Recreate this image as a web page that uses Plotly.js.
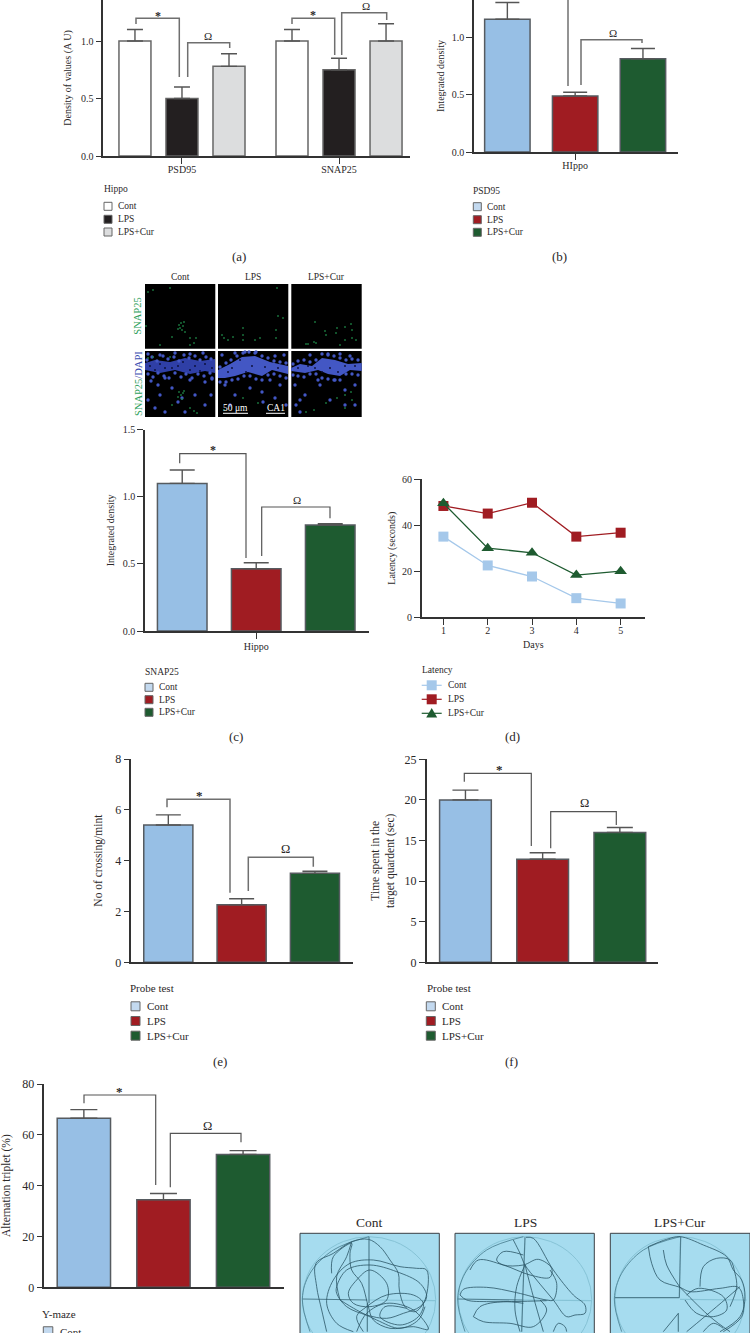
<!DOCTYPE html>
<html><head><meta charset="utf-8">
<script src="https://cdn.plot.ly/plotly-3.0.1.min.js"></script>
<style>html,body{margin:0;padding:0;background:#fff}#wrap{position:relative;width:750px;height:1344px;overflow:hidden}#chart{width:750px;height:1344px}#crop{position:absolute;left:0;top:1333px;width:750px;height:11px;background:#fff}</style>
</head><body><div id="wrap"><div id="chart"></div><div id="crop"></div></div>
<script>
// ---------- data ----------
const groups = ['Cont','LPS','LPS+Cur'];
const aCats = ['PSD95','SNAP25'];
const aCont = [1.0,1.0], aContTop = [1.1,1.1];
const aLps = [0.5,0.75], aLpsTop = [0.6,0.85];
const aCur = [0.78,1.0], aCurTop = [0.89,1.15];
const bVals = [1.154,0.487,0.81], bTops = [1.3,0.52,0.9];
const cVals = [1.1,0.464,0.79], cTops = [1.2,0.509,0.8];
const eVals = [5.4,2.26,3.5], eTops = [5.8,2.5,3.58];
const fVals = [20,12.7,16], fTops = [21.2,13.5,16.6];
const gVals = [66.5,34.5,52.3], gTops = [69.9,36.9,53.8];
const days = [1,2,3,4,5];
const dCont = [35,22.5,17.7,8.3,6];
const dLps = [48.3,45,49.7,35,36.7];
const dCur = [49.5,30,28,18.3,20];

// ---------- palette ----------
const INK='#2b2829', WHITE='#ffffff', BLACK='#231f20', GREY='#dcddde', BLUE='#97bfe5', RED='#a01c22', GREEN='#1e5b30', EDGE='#565b60';
const FONT='"Liberation Serif","Times New Roman",serif';
const W=750,H=1344;

const data=[], layout={width:W,height:H,margin:{l:0,r:0,t:0,b:0},paper_bgcolor:'#fff',plot_bgcolor:'rgba(0,0,0,0)',barmode:'overlay',showlegend:false,shapes:[],annotations:[],font:{family:FONT,color:INK}};
const shapes=layout.shapes, notes=layout.annotations;

// page overlay axis (pixel space) for brackets, legends, micrographs
layout.xaxis8={domain:[0,1],range:[0,W],visible:false,fixedrange:true,anchor:'y8'};
layout.yaxis8={domain:[0,1],range:[H,0],visible:false,fixedrange:true,anchor:'x8'};

function txt(t,x,y,size,opt){notes.push(Object.assign({text:t,x:x,y:y,xref:'x8',yref:'y8',showarrow:false,font:{size:size,family:FONT,color:INK},xanchor:'center',yanchor:'middle'},opt||{}));}
function poly(pts,color,w,layer){shapes.push({type:'path',xref:'x8',yref:'y8',layer:layer||'above',path:'M'+pts.map(p=>p[0]+','+p[1]).join('L'),line:{color:color,width:w},fillcolor:'rgba(0,0,0,0)'});}
function box(x0,y0,x1,y1,fill,line,w){shapes.push({type:'rect',xref:'x8',yref:'y8',layer:'below',x0:x0,y0:y0,x1:x1,y1:y1,fillcolor:fill,line:{color:line||fill,width:w==null?1:w}});}

function axes(n,o){
  const k=n===1?'':n;
  layout['xaxis'+k]=Object.assign({domain:[o.l/W,o.r/W],range:o.xr,anchor:'y'+k,fixedrange:true,showgrid:false,zeroline:false,showline:true,linecolor:'#333',linewidth:1.5,tickfont:{size:o.tick,family:FONT,color:INK},ticks:'outside',ticklen:6,tickwidth:1.2,tickcolor:'#333',ticklabelstandoff:o.xoff||0},o.x||{});
  layout['yaxis'+k]=Object.assign({domain:[1-o.b/H,1-o.t/H],range:o.yr,anchor:'x'+k,fixedrange:true,showgrid:false,zeroline:false,showline:true,linecolor:'#333',linewidth:1.5,tickfont:{size:o.tick,family:FONT,color:INK},ticks:'outside',ticklen:6,tickwidth:1.2,tickcolor:'#333',tickvals:o.yt,ticktext:o.ytt,title:{text:o.title,standoff:o.standoff,font:{size:o.tfont,family:FONT,color:INK}}},o.y||{});
}
function tops(v,t){return t.map((x,i)=>+(x-v[i]).toFixed(3));}
function bar(n,name,x,v,t,fill,w,off,cap,th,ln){
  const k=n===1?'':n;
  data.push({type:'bar',name:name,x:x,y:v,xaxis:'x'+k,yaxis:'y'+k,width:w,offset:off,marker:{color:fill,line:{color:ln||EDGE,width:1.5}},error_y:{type:'data',symmetric:false,array:tops(v,t),arrayminus:v.map(()=>0),color:'#555',thickness:th||1.4,width:cap},cliponaxis:false,hoverinfo:'skip'});
}
function trio(n,v,t,w,cap){
  [BLUE,RED,GREEN].forEach((c,i)=>bar(n,groups[i],[groups[i]],[v[i]],[t[i]],c,w,-w/2,cap));
}
const C3=groups;

// ---- (a)
axes(1,{l:103.3,r:410,t:0,b:156,xr:[-0.501,1.452],yr:[0,1.357],tick:10,xoff:-3,yt:[0,0.5,1],ytt:['0.0','0.5','1.0'],title:'Density of values (A U)',tfont:10,standoff:8,x:{type:'category',categoryorder:'array',categoryarray:aCats}});
[[WHITE,aCont,aContTop,-1,'Cont'],[BLACK,aLps,aLpsTop,0,'LPS'],[GREY,aCur,aCurTop,1,'LPS+Cur']].forEach(r=>{
  bar(1,r[4],aCats,r[1],r[2],r[0],0.2038,r[3]*0.2994-0.1019,8,1.4,'#666');
});
// ---- (b)
axes(2,{l:474,r:678,t:0,b:152,xr:[-0.492,2.517],yr:[0,1.322],tick:10,xoff:-3,yt:[0,0.5,1],ytt:['0.0','0.5','1.0'],title:'Integrated density',tfont:10,standoff:5,x:{type:'category',categoryorder:'array',categoryarray:C3,tickvals:['LPS'],ticktext:['HIppo']}});
trio(2,bVals,bTops,0.67,12);
// ---- (c)
axes(3,{l:145,r:369.3,t:429.7,b:631,xr:[-0.503,2.528],yr:[0,1.5],tick:10,xoff:-1,yt:[0,0.5,1,1.5],ytt:['0.0','0.5','1.0','1.5'],title:'Integrated density',tfont:10,standoff:6,x:{type:'category',categoryorder:'array',categoryarray:C3,tickvals:['LPS'],ticktext:['Hippo']}});
trio(3,cVals,cTops,0.67,12.5);
// ---- (d)
axes(4,{l:421.7,r:645,t:479,b:617.3,xr:[0.51,5.55],yr:[0,60],tick:10,xoff:-3,yt:[0,20,40,60],title:'Latency (seconds)',tfont:10,standoff:4,x:{tickvals:days,title:{text:'Days',standoff:6,font:{size:10,family:FONT,color:INK}}}});
[[dCont,'#a5c8ea','square','Cont'],[dLps,RED,'square','LPS'],[dCur,GREEN,'triangle-up','LPS+Cur']].forEach(r=>{
  data.push({type:'scatter',mode:'lines+markers',name:r[3],x:days,y:r[0],xaxis:'x4',yaxis:'y4',line:{color:r[1],width:1.3},marker:{symbol:r[2],size:r[2]==='square'?10:11,color:r[1]},cliponaxis:false,hoverinfo:'skip'});
});
// ---- (e)
const noX={type:'category',categoryorder:'array',categoryarray:C3,ticks:'',showticklabels:false};
axes(5,{l:131.3,r:352.7,t:759,b:962.3,xr:[-0.505,2.515],yr:[0,8],tick:12,yt:[0,2,4,6,8],title:'No of crossing/mint',tfont:11.5,standoff:10,x:noX});
trio(5,eVals,eTops,0.67,12.5);
// ---- (f)
axes(6,{l:426.7,r:658.3,t:759.3,b:962.3,xr:[-0.502,2.498],yr:[0,25],tick:12,yt:[0,5,10,15,20,25],title:'Time spent in the<br>target quardent (sec)',tfont:11.5,standoff:8,x:noX});
trio(6,fVals,fTops,0.67,13);
// ---- (g)
axes(7,{l:44.3,r:284.3,t:1084,b:1287.3,xr:[-0.497,2.518],yr:[0,80],tick:12,yt:[0,20,40,60,80],title:'Alternation triplet (%)',tfont:11.5,standoff:9,x:noX});
trio(7,gVals,gTops,0.67,13.5);

// ---------- brackets ----------
const bracketsThick=[
 [[136,24],[136,18.3],[179.3,18.3],[179.3,77]],[[187.7,77],[187.7,42.7],[229.7,42.7],[229.7,48]],
 [[292,24],[292,18.3],[334.7,18.3],[334.7,55]],[[341.7,55],[341.7,12.7],[386.7,12.7],[386.7,20]],
 [[568,0],[568,86]],[[581,85],[581,39.7],[642,39.7],[642,43]],
 [[167,807.3],[167,799.3],[230,799.3],[230,892.7]],[[248.3,891],[248.3,857.3],[313.3,857.3],[313.3,866.7]]
];
const bracketsThin=[
 [[179.7,463.3],[179.7,453.7],[246,453.7],[246,558]],[[261.7,556],[261.7,507],[330,507],[330,518.3]],
 [[464.3,781.7],[464.3,773.3],[531.3,773.3],[531.3,846]],[[550.7,848.3],[550.7,811.7],[616.3,811.7],[616.3,825]],
 [[84,1103.3],[84,1095],[155.7,1095],[155.7,1185]],[[170.3,1187.3],[170.3,1133.3],[241,1133.3],[241,1142.3]]
];
bracketsThick.forEach(b=>poly(b,'#6f6f6f',1.5));
bracketsThin.forEach(b=>poly(b,'#555',1.2));
const stars=[[158,16,12],[313,15,12],[212.7,450,12],[199.3,795,13],[499.3,769,13],[119.3,1091,13]];
const omegas=[[208,36,11],[365.7,6,11],[613,33,11],[297,500,11],[285.3,849,12.5],[584,803.3,12.5],[207.7,1125.7,12.5]];
stars.forEach(s=>txt('<b>*</b>',s[0],s[1],s[2]));
omegas.forEach(s=>txt('Ω',s[0],s[1],s[2]));

// ---------- legends ----------
function swatches(title,tx,ty,sx,sw,ys,textx,fs,fills){
  txt(title,tx-2,ty,fs,{xanchor:'left'});
  ys.forEach((y,i)=>{
    box(sx,y-sw/2,sx+sw,y+sw/2,fills[i],'#666',1);
    txt(groups[i],textx-2,y,fs,{xanchor:'left'});
  });
}
const legendGrey=[WHITE,BLACK,GREY], legendColor=['#c3d9ef',RED,GREEN];
swatches('Hippo',104,189,104,8,[206.3,219.3,232],117.7,9.5,legendGrey);
swatches('PSD95',473.3,191,473.3,8,[206.7,219.7,232.3],487,9.5,legendColor);
swatches('SNAP25',145,672.3,145,8,[687.3,699.7,712.3],158.7,9.5,legendColor);
swatches('Probe test',130,988.3,131,9,[1006.3,1021,1035.7],146.7,11,legendColor);
swatches('Probe test',427.3,988.3,426.3,9,[1006.3,1021,1035.7],442.3,11,legendColor);
swatches('Y-maze',42.3,1314.3,43.3,9.5,[1331.5],60,11,legendColor);
// (d) legend
txt('Latency',420.3,670,9.5,{xanchor:'left'});
[[685.3,'#a5c8ea'],[699.3,RED],[713.3,GREEN]].forEach((r,i)=>{
  poly([[421.7,r[0]],[441.7,r[0]]],r[1],1.2);
  if(i<2) shapes.push({type:'rect',xref:'x8',yref:'y8',layer:'above',x0:426.7,x1:436.7,y0:r[0]-5,y1:r[0]+5,fillcolor:r[1],line:{width:0}});
  else shapes.push({type:'path',xref:'x8',yref:'y8',layer:'above',path:'M426.2,717.5L431.7,708L437.2,717.5Z',fillcolor:r[1],line:{width:0}});
  txt(groups[i],446,r[0],9.5,{xanchor:'left'});
});
// panel letters
[['(a)',239,256],['(b)',559.3,256],['(c)',235.7,736.7],['(d)',512.3,736.7],['(e)',220.3,1061.7],['(f)',511,1061.7]].forEach(l=>txt(l[0],l[1],l[2],13));

// ---------- micrographs ----------
const microCols=[[145,215.3],[218,288.3],[291.3,361.7]];
const microRows=[[284,348.7],[351,417]];
microCols.forEach(c=>microRows.forEach(r=>box(c[0],r[0],c[1],r[1],'#000','#000',0)));
const bandP1='M145,363L155,360L170,362L185,358L200,361L215,359L215,373L205,371L190,374L175,370L160,373L145,370Z';
const bandP2='M218,370L230,364L242,357L255,356L270,362L288,366L288,374L272,370L262,376L248,372L235,376L225,378L218,378Z';
const bandP3='M291,368L300,364L312,366L322,358L335,360L348,364L361.7,363L361.7,371L350,370L340,376L328,374L318,370L305,373L291,371Z';
[[bandP1,'#2f3fa6'],[bandP2,'#4357c4'],[bandP3,'#4357c4']].forEach(b=>shapes.push({type:'path',xref:'x8',yref:'y8',layer:'below',path:b[0],fillcolor:b[1],line:{width:0}}));

const blueX=[151,158,165,172,190,205,212,148,160,178,165,195,205,155,185,211,182,148,160,175,190,203,212,
 225,235,250,262,270,280,230,263,286,275,222,235,245,255,275,284,
 295,300,305,320,335,345,355,330,345,300,355,318,310,328,296,340,350,
 147,152,157,163,168,174,179,184,189,195,200,206,211,148,153,158,164,169,175,181,186,192,198,204,210,
 220,226,231,237,243,249,256,262,268,274,280,286,220,226,232,238,244,250,256,262,268,274,280,286,
 293,298,304,310,316,322,328,334,340,346,352,358,293,298,304,310,316,322,328,334,340,346,352,358];
const blueY=[381,385,378,388,380,382,378,400,395,402,412,395,405,408,412,395,398,354,355,353,354,353,379,
 385,395,388,392,380,385,405,402,405,398,355,353,352,353,356,355,
 385,400,395,385,380,390,385,400,405,412,405,380,355,354,405,354,356,
 360,357,361,356,359,357,361,355,358,356,360,357,359,374,377,373,376,378,373,377,374,378,374,376,373,
 367,363,360,356,353,352,352,356,358,361,362,363,382,382,380,379,376,376,379,380,375,374,376,378,
 364,361,360,362,360,354,355,356,358,360,359,360,375,376,377,374,374,378,379,380,380,374,374,375];
data.push({type:'scatter',mode:'markers',name:'DAPI',x:blueX,y:blueY,xaxis:'x8',yaxis:'y8',marker:{size:3.4,color:'#4357c4'},hoverinfo:'skip',cliponaxis:false});
const holeX=[150,160,172,183,195,205,212,155,178,190,200,165,228,240,252,265,278,246,232,298,315,330,345,322,338,355,308];
const holeY=[366,364,368,362,366,364,368,370,366,370,371,368,372,360,366,367,368,372,368,368,368,368,366,372,372,366,366];
data.push({type:'scatter',mode:'markers',name:'DAPI gaps',x:holeX,y:holeY,xaxis:'x8',yaxis:'y8',marker:{size:1.8,color:'#0a0d33'},hoverinfo:'skip',cliponaxis:false});
const greenX=[179,181,183,180,182,178,184,172,185,190,194,196,148,153,170,190,146,160,
 222,224,228,233,243,243,243,255,260,278,283,276,276,277,
 306,308,314,316,326,325,336,337,345,351,352,352,345,340,356,315,
 179,181,184,178,182,183,172,190,194,197,148,153,170,224,258,243,
 306,314,326,337,345,351,352,345];
const greenY=[325,323,326,328,330,329,322,337,332,338,343,338,292,290,288,345,326,345,
 335,338,340,337,335,340,328,340,338,316,318,330,338,288,
 344,344,342,343,335,331,333,328,327,324,330,338,340,345,340,322,
 392,395,391,397,399,393,405,408,411,413,358,357,357,410,403,398,
 412,410,403,398,395,392,400,408];
data.push({type:'scatter',mode:'markers',name:'SNAP25',x:greenX,y:greenY,xaxis:'x8',yaxis:'y8',marker:{size:2,color:'#1f8a48',opacity:0.8},hoverinfo:'skip',cliponaxis:false});
const whiteBars=[[[223,413.3],[248,413.3]],[[266,413.3],[285,413.3]]];
whiteBars.forEach(b=>poly(b,'#fff',1));
txt('50 μm',235.5,408,9.5,{font:{size:9.5,family:FONT,color:'#fff'}});
txt('CA1',275.7,408,9.5,{font:{size:9.5,family:FONT,color:'#fff'}});
[['Cont',180],['LPS',253],['LPS+Cur',326]].forEach(t=>txt(t[0],t[1],277,9.5));
txt('SNAP25',138,316.7,10.5,{textangle:-90,font:{size:10.5,family:FONT,color:'#2da05a'}});
txt('<span style="color:#2da05a">SNAP25</span><span style="color:#3a4db0">/DAPI</span>',138,384,10.5,{textangle:-90});

// ---------- water-maze tracks (read in units of a 3x crop whose origin is 290,1200) ----------
const mazeCols=[[300,439.3],[455,594.3],[610.3,750]];
mazeCols.forEach(c=>{shapes.push({type:'rect',xref:'x8',yref:'y8',layer:'below',x0:c[0],x1:c[1],y0:1233.3,y1:1345,fillcolor:'#a6dcef',line:{color:'#3a3f44',width:1}});});
[[302.3,435.7],[458.3,591.7],[615,745]].forEach(c=>shapes.push({type:'circle',xref:'x8',yref:'y8',layer:'below',x0:c[0],x1:c[1],y0:1236.7,y1:1362,fillcolor:'rgba(0,0,0,0)',line:{color:'#86c3d6',width:1}}));
const mazeFaint=[
 [[237,300],[437,302]],[[700,300],[905,302]],[[1170,298],[1370,300]],
];
const mazeMid=[
 [[37,297],[232,300]],[[237,110],[237,310]],[[232,310],[232,395]],
 [[503,297],[700,300]],[[705,112],[698,300]],[[698,300],[695,395]],
 [[975,293],[1168,293]],[[1172,110],[1168,293]],[[1165,340],[1165,395]]
];
const mazeRim=[
 [[237,110],[130,150],[60,220],[37,297],[60,395]],
 [[700,110],[590,150],[525,220],[503,297],[525,395]],
 [[1170,110],[1060,150],[995,220],[973,297],[995,395]]
];
const mazeTracks=[
 [[110,395],[95,330],[80,260],[78,190],[130,160],[185,125],[235,118],[270,140],[300,180],[325,220],[328,270],[345,320],[375,335],[405,300],[410,210],[380,205],[330,200],[250,180],[180,190],[130,240],[110,310],[140,370],[190,395]],
 [[140,260],[170,210],[240,195],[320,215],[390,250],[410,290],[390,320],[340,340],[290,355],[230,345],[170,320],[140,280],[140,260]],
 [[125,220],[130,170],[185,130],[180,160],[185,210],[215,250],[235,320],[250,360],[300,385],[370,380],[415,388],[370,330],[290,310],[230,340],[200,395]],
 [[240,210],[290,250],[290,300],[240,320],[190,310],[175,280],[200,240],[240,210]],
 [[220,395],[200,350],[230,320],[290,285],[370,285],[400,310],[385,350],[330,375],[270,350],[285,320],[350,325]],
 [[150,300],[200,330],[260,360],[330,385],[385,360],[405,320]],
 [[185,125],[170,170],[140,230],[150,300]],
 [[670,120],[690,160],[705,195],[740,240],[790,300],[830,350],[855,345],[885,340],[885,315],[850,285],[790,210],[730,115],[708,112]],
 [[540,210],[565,180],[640,195],[720,225],[780,232],[785,205],[745,178],[700,195],[640,195],[620,180],[640,155],[700,165]],
 [[510,285],[520,268],[590,262],[680,278],[770,300],[790,300],[800,250],[780,210]],
 [[510,285],[530,300],[600,305],[770,302]],
 [[550,350],[570,320],[640,305],[700,310]],
 [[550,350],[580,365],[660,370],[730,380],[770,330],[750,300]],
 [[705,195],[680,260],[675,330],[690,395]],
 [[705,195],[730,290],[760,395]],
 [[790,395],[805,370],[825,380],[830,395]],
 [[1075,140],[1085,190],[1110,240],[1170,262],[1200,275],[1290,265],[1345,262],[1360,300],[1355,350],[1300,395]],
 [[1120,150],[1130,195],[1170,262]],
 [[1075,140],[1130,118],[1170,110],[1240,135],[1310,170],[1330,210],[1355,240],[1365,290],[1350,350],[1290,395]],
 [[1230,260],[1240,200],[1280,175],[1320,180],[1335,220],[1340,262],[1320,320]],
 [[1190,285],[1225,265],[1300,290],[1310,330],[1270,350],[1220,340],[1185,300]],
 [[1170,262],[1260,350],[1320,395]],
 [[1350,260],[1280,320],[1190,395]],
 [[1165,340],[1120,395]],
 [[1240,395],[1270,370],[1300,385]]
];
function mazeLine(pts,color,w,shape){
  data.push({type:'scatter',mode:'lines',showlegend:false,x:pts.map(p=>290+p[0]/3),y:pts.map(p=>1200+p[1]/3),xaxis:'x8',yaxis:'y8',line:{color:color,width:w,shape:shape||'linear',smoothing:1},hoverinfo:'skip',cliponaxis:false});
}
mazeFaint.forEach(p=>mazeLine(p,'#86c3d6',1.2));
mazeRim.forEach(p=>mazeLine(p,'#4f8496',0.9,'spline'));
mazeMid.forEach(p=>mazeLine(p,'#4f7f90',1.2));
mazeTracks.forEach(p=>mazeLine(p,'#2b5566',0.8,'spline'));
[['Cont',369.7],['LPS',525],['LPS+Cur',680.3]].forEach(t=>txt(t[0],t[1],1222.7,13.5));

Plotly.newPlot('chart',data,layout,{displayModeBar:false,responsive:false});
</script></body></html>
